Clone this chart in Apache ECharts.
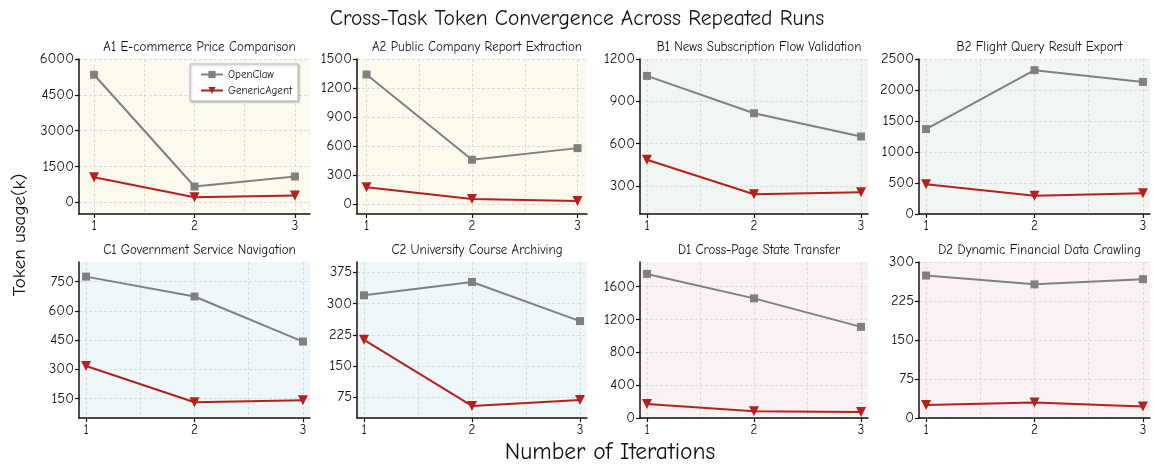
<!DOCTYPE html>
<html>
<head>
<meta charset="utf-8">
<script src="https://cdn.jsdelivr.net/npm/echarts@6/dist/echarts.min.js"></script>
<style>
  html, body { margin: 0; padding: 0; background: #ffffff; }
  #chart { width: 1154px; height: 468px; }
</style>
</head>
<body>
<div id="chart"></div>
<script>
// ---------------- data ----------------
const iterations = [1, 2, 3];
const taskTitles = [
  'A1 E-commerce Price Comparison',
  'A2 Public Company Report Extraction',
  'B1 News Subscription Flow Validation',
  'B2 Flight Query Result Export',
  'C1 Government Service Navigation',
  'C2 University Course Archiving',
  'D1 Cross-Page State Transfer',
  'D2 Dynamic Financial Data Crawling'
];
const seriesNames = ['OpenClaw', 'GenericAgent'];
const openClawValues = [
  [5340, 660, 1080],
  [1340, 460, 580],
  [1080, 815, 650],
  [1370, 2320, 2130],
  [775, 673, 442],
  [320, 352, 258],
  [1755, 1457, 1110],
  [274, 257, 267]
];
const genericAgentValues = [
  [1050, 210, 280],
  [176, 55, 35],
  [485, 240, 255],
  [478, 293, 333],
  [317, 131, 141],
  [213, 54, 68],
  [171, 82, 73],
  [25, 30, 22]
];
const yTickValues = [
  [0, 1500, 3000, 4500, 6000],
  [0, 300, 600, 900, 1200, 1500],
  [300, 600, 900, 1200],
  [0, 500, 1000, 1500, 2000, 2500],
  [150, 300, 450, 600, 750],
  [75, 150, 225, 300, 375],
  [0, 400, 800, 1200, 1600],
  [0, 75, 150, 225, 300]
];
const xTickValues = [1, 2, 3];
const xGridValues = [1, 1.5, 2, 2.5, 3];

// ---------------- layout / style ----------------
const yRanges = [
  [-490, 6000], [-100, 1500], [100, 1200], [0, 2500],
  [50, 850], [25, 400], [0, 1900], [0, 300]
];
const xRanges = [
  [0.85, 3.15], [0.91, 3.09], [0.935, 3.065], [0.935, 3.065],
  [0.935, 3.065], [0.935, 3.065], [0.935, 3.065], [0.935, 3.065]
];
const colLeft = [79, 357, 640, 919];
const colRight = [310, 587, 868, 1150];
const rowTop = [59, 262];
const rowBottom = [214, 418];
const panelBg = ['#fcf9ef', '#fcf9ef', '#f2f6f2', '#f2f6f2', '#eef7fa', '#eef7fa', '#faf2f2', '#faf2f2'];
const FONT = "'Comic Sans MS', 'Comic Neue', 'DejaVu Sans', sans-serif";
const GRAY = '#808080';
const RED = '#b5201c';

const grids = [], xAxes = [], yAxes = [], series = [], titles = [];

titles.push({
  text: 'Cross-Task Token Convergence Across Repeated Runs',
  left: 'center', top: 3,
  textStyle: { fontFamily: FONT, fontSize: 21.5, fontWeight: 'normal', color: '#111' }
});

for (let i = 0; i < 8; i++) {
  const r = Math.floor(i / 4), c = i % 4;
  const left = colLeft[c], width = colRight[c] - colLeft[c];
  const top = rowTop[r], height = rowBottom[r] - rowTop[r];
  grids.push({
    left: left, top: top, width: width, height: height,
    show: true, backgroundColor: panelBg[i], borderWidth: 0
  });
  titles.push({
    text: taskTitles[i],
    left: left + width / 2, top: top - 23, textAlign: 'center',
    textStyle: { fontFamily: FONT, fontSize: 13, fontWeight: 'normal', color: '#111' }
  });
  // main x axis (labels + ticks)
  xAxes.push({
    type: 'value', gridIndex: i, min: xRanges[i][0], max: xRanges[i][1],
    position: 'bottom',
    axisLine: { show: true, onZero: false, lineStyle: { color: '#111', width: 1.5 } },
    axisTick: { show: true, length: 4, lineStyle: { color: '#111', width: 1.2 }, customValues: xTickValues },
    axisLabel: { show: true, customValues: xTickValues, fontFamily: FONT, fontSize: 13, color: '#111', margin: 6,
                 formatter: v => String(v) },
    splitLine: { show: false }
  });
  // helper x axis for vertical dashed grid lines
  xAxes.push({
    type: 'value', gridIndex: i, min: xRanges[i][0], max: xRanges[i][1],
    position: 'top',
    axisLine: { show: false },
    axisTick: { show: false, customValues: xGridValues },
    axisLabel: { show: false },
    splitLine: { show: true, lineStyle: { color: '#d6d6d6', type: [3, 2], width: 0.8 } }
  });
  yAxes.push({
    type: 'value', gridIndex: i, min: yRanges[i][0], max: yRanges[i][1],
    axisLine: { show: true, onZero: false, lineStyle: { color: '#111', width: 1.5 } },
    axisTick: { show: true, length: 4, lineStyle: { color: '#111', width: 1.2 }, customValues: yTickValues[i] },
    axisLabel: { show: true, customValues: yTickValues[i], fontFamily: FONT, fontSize: 14.5, color: '#111', margin: 5,
                 formatter: v => String(v) },
    splitLine: { show: true, lineStyle: { color: '#d6d6d6', type: [3, 2], width: 0.8 } }
  });
  series.push({
    name: seriesNames[0], type: 'line', xAxisIndex: 2 * i, yAxisIndex: i,
    data: iterations.map((x, k) => [x, openClawValues[i][k]]),
    symbol: 'rect', symbolSize: 8,
    lineStyle: { color: GRAY, width: 2 },
    itemStyle: { color: GRAY },
    animation: false, z: 3
  });
  series.push({
    name: seriesNames[1], type: 'line', xAxisIndex: 2 * i, yAxisIndex: i,
    data: iterations.map((x, k) => [x, genericAgentValues[i][k]]),
    symbol: 'triangle', symbolRotate: 180, symbolSize: 10,
    lineStyle: { color: RED, width: 2 },
    itemStyle: { color: RED },
    animation: false, z: 4
  });
}

const chart = echarts.init(document.getElementById('chart'), null, { renderer: 'canvas' });
chart.setOption({
  animation: false,
  backgroundColor: '#ffffff',
  textStyle: { fontFamily: FONT },
  title: titles,
  legend: {
    data: seriesNames,
    orient: 'vertical',
    left: 190, top: 64,
    padding: [5, 6, 5, 10],
    itemGap: 5,
    itemWidth: 22, itemHeight: 9,
    backgroundColor: '#ffffff',
    borderColor: '#bbbbbb', borderWidth: 1,
    shadowColor: 'rgba(0,0,0,0.25)', shadowBlur: 2, shadowOffsetX: 1, shadowOffsetY: 1,
    textStyle: { fontFamily: FONT, fontSize: 11, color: '#111' }
  },
  grid: grids,
  xAxis: xAxes,
  yAxis: yAxes,
  series: series,
  graphic: [
    {
      type: 'text', x: 20, y: 235, rotation: Math.PI / 2,
      style: { text: 'Token usage(k)', fontFamily: FONT, fontSize: 19, fill: '#111',
               textAlign: 'center', textVerticalAlign: 'middle' }
    },
    {
      type: 'text', x: 610, y: 452,
      style: { text: 'Number of Iterations', fontFamily: FONT, fontSize: 23.5, fill: '#111',
               textAlign: 'center', textVerticalAlign: 'middle' }
    }
  ]
});
</script>
</body>
</html>
